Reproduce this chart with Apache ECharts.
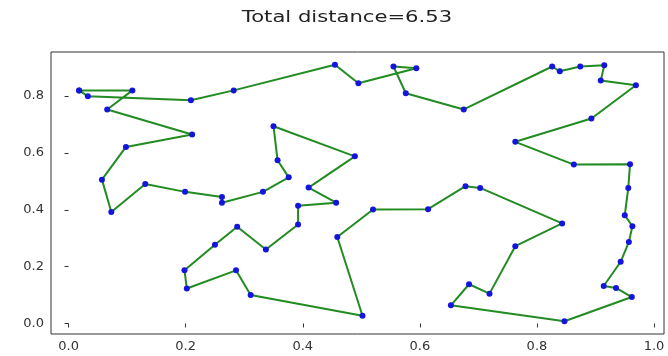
<!DOCTYPE html>
<html>
<head>
<meta charset="utf-8">
<script src="https://cdn.jsdelivr.net/npm/echarts@6/dist/echarts.min.js"></script>
<style>
  html, body { margin: 0; padding: 0; background: #fff; }
  #main { width: 668px; height: 356px; }
</style>
</head>
<body>
<div id="main"></div>
<script>
// tour order
var tourX = [0.018, 0.109, 0.066, 0.211, 0.098, 0.057, 0.073, 0.131, 0.199, 0.262,
  0.262, 0.332, 0.376, 0.357, 0.350, 0.489, 0.410, 0.457, 0.392, 0.392,
  0.337, 0.288, 0.250, 0.198, 0.202, 0.286, 0.311, 0.502, 0.459, 0.520,
  0.614, 0.678, 0.703, 0.843, 0.763, 0.719, 0.684, 0.653, 0.847, 0.962,
  0.935, 0.914, 0.943, 0.957, 0.963, 0.950, 0.956, 0.959, 0.863, 0.763,
  0.893, 0.969, 0.909, 0.915, 0.874, 0.839, 0.826, 0.675, 0.576, 0.555,
  0.594, 0.495, 0.455, 0.282, 0.209, 0.033];
var tourY = [0.820, 0.820, 0.753, 0.665, 0.621, 0.506, 0.392, 0.491, 0.463, 0.445,
  0.425, 0.463, 0.514, 0.574, 0.694, 0.588, 0.478, 0.425, 0.414, 0.348,
  0.260, 0.340, 0.277, 0.187, 0.123, 0.187, 0.100, 0.027, 0.304, 0.401,
  0.402, 0.483, 0.477, 0.352, 0.272, 0.105, 0.138, 0.064, 0.008, 0.093,
  0.125, 0.132, 0.217, 0.287, 0.342, 0.381, 0.477, 0.560, 0.559, 0.639,
  0.721, 0.838, 0.855, 0.908, 0.904, 0.887, 0.904, 0.753, 0.810, 0.904,
  0.898, 0.845, 0.910, 0.820, 0.785, 0.799];
var xTicks = [0.0, 0.2, 0.4, 0.6, 0.8, 1.0];
var yTicks = [0.0, 0.2, 0.4, 0.6, 0.8];
var totalDistance = "6.53";

var pts = [];
for (var i = 0; i < tourX.length; i++) {
  pts.push([tourX[i], tourY[i]]);
}
pts.push([tourX[0], tourY[0]]); // close the loop

var chart = echarts.init(document.getElementById("main"));
var font = "DejaVu Sans";
chart.setOption({
  animation: false,
  // the picture is a bit stretched sideways, so the title is widened to match
  graphic: [{
    type: "text",
    x: 347, y: 18,
    scaleX: 1.28,
    style: {
      text: "Total distance=" + totalDistance,
      font: "16.5px 'DejaVu Sans'",
      fill: "#222",
      align: "center",
      verticalAlign: "middle"
    }
  }],
  grid: {
    left: 51, right: 4, top: 52, bottom: 22,
    show: true, borderColor: "#333", borderWidth: 1, backgroundColor: "#fff"
  },
  xAxis: {
    type: "value",
    min: -0.030, max: 1.017,
    splitLine: { show: false },
    axisLine: { show: false },
    axisTick: { show: true, length: 4, lineStyle: { color: "#333" }, customValues: xTicks },
    axisLabel: {
      customValues: xTicks, fontFamily: font, fontSize: 13, color: "#333", margin: 6,
      formatter: function (v) { return v.toFixed(1); }
    }
  },
  yAxis: {
    type: "value",
    min: -0.037, max: 0.955,
    splitLine: { show: false },
    axisLine: { show: false },
    axisTick: { show: true, length: 4, lineStyle: { color: "#333" }, customValues: yTicks },
    axisLabel: {
      customValues: yTicks, fontFamily: font, fontSize: 13, color: "#333", margin: 7,
      formatter: function (v) { return v.toFixed(1); }
    }
  },
  series: [{
    type: "line",
    data: pts,
    symbol: "circle",
    symbolSize: 6,
    showAllSymbol: true,
    lineStyle: { color: "#228b22", width: 2 },
    itemStyle: { color: "#1414dc" }
  }]
});
</script>
</body>
</html>
